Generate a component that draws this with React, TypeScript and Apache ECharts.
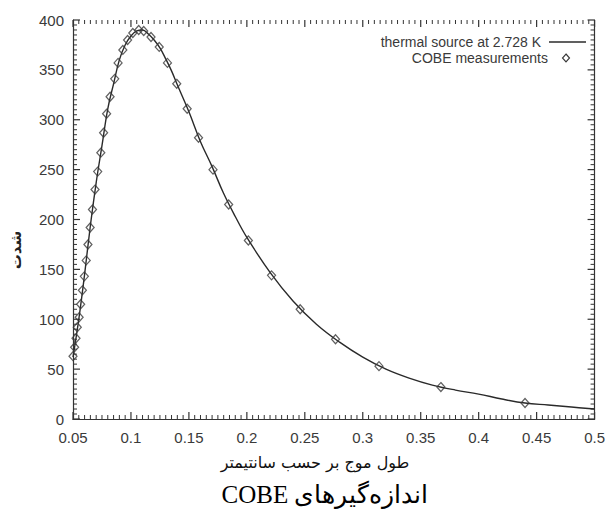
import React, { useEffect, useRef } from "react";
import * as echarts from "echarts";

// COBE measurements (wavelength in cm, intensity)
const cobeX = [0.0500, 0.0514, 0.0526, 0.0537, 0.0553, 0.0566, 0.0581, 0.0598, 0.0614, 0.0629, 0.0648, 0.0668, 0.0690, 0.0713, 0.0740, 0.0764, 0.0790, 0.0820, 0.0860, 0.0889, 0.0930, 0.0971, 0.1016, 0.1067, 0.1110, 0.1173, 0.1244, 0.1315, 0.1395, 0.1485, 0.1583, 0.1708, 0.1843, 0.2013, 0.2213, 0.2460, 0.2765, 0.3140, 0.3674, 0.4400];
const cobeY = [63, 72, 81, 92, 102, 115, 129, 143, 159, 175, 192, 210, 230, 248, 267, 287, 306, 323, 341, 357, 370, 380, 387, 390, 389, 383, 373, 357, 336, 311, 282, 250, 215, 179, 144, 110, 80, 53, 32, 16];

// thermal source curve
const curveX = [0.05, 0.055, 0.06, 0.065, 0.07, 0.075, 0.08, 0.085, 0.09, 0.095, 0.10, 0.105, 0.11, 0.115, 0.12, 0.125, 0.13, 0.135, 0.14, 0.15, 0.16, 0.17, 0.18, 0.19, 0.20, 0.22, 0.24, 0.26, 0.28, 0.30, 0.32, 0.34, 0.36, 0.38, 0.40, 0.42, 0.44, 0.46, 0.48, 0.50];
const curveY = [62, 100, 145, 194, 237, 274, 311, 336, 360, 375, 384, 389, 390, 386, 380, 372, 361, 349, 335, 308, 278, 253, 226, 203, 182, 147, 118, 95, 77, 62, 50, 41, 34, 29, 25, 20, 16, 14, 12, 10];

const xTicks = { min: 0.05, max: 0.5, interval: 0.05, minorSteps: 10 };
const yTicks = { min: 0, max: 400, interval: 50, minorSteps: 10 };

const legendLine = "thermal source at 2.728 K";
const legendPoints = "COBE measurements";
const xName = "طول موج بر حسب سانتیمتر";
const yName = "شدت";
const caption = "\u202Bاندازه‌گیرهای COBE\u202C";

const LABEL_COLOR = "#3a3a3a";
const AXIS_COLOR = "#333";
const LATIN = "'Liberation Sans', Arial, sans-serif";

export default function App() {
  const ref = useRef<HTMLDivElement>(null);

  useEffect(() => {
    document.body.style.margin = "0";
    document.body.style.overflow = "hidden";
    if (!ref.current) return;
    const chart = echarts.init(ref.current, undefined, { renderer: "svg" });

    const makeAxis = (position: string, showLabel: boolean, range: any, margin: number) => ({
      type: "value",
      position,
      min: range.min,
      max: range.max,
      interval: range.interval,
      axisLine: { show: true, lineStyle: { color: AXIS_COLOR, width: 1.2 } },
      axisTick: { show: false },
      splitLine: { show: false },
      axisLabel: {
        show: showLabel,
        color: LABEL_COLOR,
        fontSize: 15,
        fontFamily: LATIN,
        margin,
      },
    });

    // tick marks (gnuplot style: inside, mirrored on all four sides), placed through the axes' scales
    const tickItems: number[][] = [];
    const xStep = xTicks.interval / xTicks.minorSteps;
    const nX = Math.round((xTicks.max - xTicks.min) / xStep);
    for (let k = 0; k <= nX; k++) {
      const v = +(xTicks.min + k * xStep).toFixed(4);
      const major = k % xTicks.minorSteps === 0 ? 1 : 0;
      tickItems.push([v, 0, major], [v, 1, major]);
    }
    const yStep = yTicks.interval / yTicks.minorSteps;
    const nY = Math.round((yTicks.max - yTicks.min) / yStep);
    for (let k = 0; k <= nY; k++) {
      const v = +(yTicks.min + k * yStep).toFixed(4);
      const major = k % yTicks.minorSteps === 0 ? 1 : 0;
      tickItems.push([v, 2, major], [v, 3, major]);
    }

    const renderTick = (_params: any, api: any) => {
      const v = api.value(0);
      const side = api.value(1);
      const len = api.value(2) ? 7 : 4;
      let x1 = 0, y1 = 0, x2 = 0, y2 = 0;
      if (side === 0) {
        const p = api.coord([v, yTicks.min]);
        x1 = x2 = p[0]; y1 = p[1]; y2 = p[1] - len;
      } else if (side === 1) {
        const p = api.coord([v, yTicks.max]);
        x1 = x2 = p[0]; y1 = p[1]; y2 = p[1] + len;
      } else if (side === 2) {
        const p = api.coord([xTicks.min, v]);
        y1 = y2 = p[1]; x1 = p[0]; x2 = p[0] + len;
      } else {
        const p = api.coord([xTicks.max, v]);
        y1 = y2 = p[1]; x1 = p[0]; x2 = p[0] - len;
      }
      return {
        type: "line",
        shape: { x1, y1, x2, y2 },
        style: { stroke: AXIS_COLOR, lineWidth: api.value(2) ? 1.2 : 1 },
      };
    };

    const curveData = curveX.map((x, i) => [x, curveY[i]]);
    const cobeData = cobeX.map((x, i) => [x, cobeY[i]]);

    chart.setOption({
      animation: false,
      grid: { left: 73, right: 8, top: 20, bottom: 93 },
      xAxis: [makeAxis("bottom", true, xTicks, 11), makeAxis("top", false, xTicks, 8)],
      yAxis: [makeAxis("left", true, yTicks, 9), makeAxis("right", false, yTicks, 8)],
      series: [
        {
          type: "custom",
          data: tickItems,
          renderItem: renderTick,
          clip: false,
          silent: true,
          encode: { x: 0, y: -1 },
          z: 1,
        },
        {
          name: legendLine,
          type: "line",
          data: curveData,
          smooth: 0.4,
          showSymbol: false,
          lineStyle: { color: "#2a2a2a", width: 1.4 },
          z: 2,
        },
        {
          name: legendPoints,
          type: "scatter",
          data: cobeData,
          symbol: "diamond",
          symbolSize: [8, 9],
          itemStyle: { color: "rgba(255,255,255,0)", borderColor: "#383838", borderWidth: 1.25 },
          z: 3,
        },
      ],
      graphic: [
        {
          type: "text",
          x: 541,
          y: 42,
          style: {
            text: legendLine,
            align: "right",
            verticalAlign: "middle",
            fill: LABEL_COLOR,
            font: `14px ${LATIN}`,
          },
        },
        {
          type: "line",
          shape: { x1: 549, y1: 42, x2: 586, y2: 42 },
          style: { stroke: "#2b2b2b", lineWidth: 1.3 },
        },
        {
          type: "text",
          x: 548,
          y: 58,
          style: {
            text: legendPoints,
            align: "right",
            verticalAlign: "middle",
            fill: LABEL_COLOR,
            font: `14px ${LATIN}`,
          },
        },
        {
          type: "polygon",
          shape: { points: [[566, 54], [569.5, 58], [566, 62], [562.5, 58]] },
          style: { fill: "none", stroke: "#393939", lineWidth: 1.15 },
        },
        {
          type: "text",
          x: 16,
          y: 250,
          rotation: Math.PI / 2,
          style: {
            text: yName,
            align: "center",
            verticalAlign: "middle",
            fill: "#222",
            font: `bold 15px 'DejaVu Sans', sans-serif`,
          },
        },
        {
          type: "text",
          x: 315,
          y: 462,
          style: {
            text: xName,
            align: "center",
            verticalAlign: "middle",
            fill: "#111",
            font: `16px 'DejaVu Sans', sans-serif`,
          },
        },
        {
          type: "text",
          x: 325,
          y: 494,
          style: {
            text: caption,
            align: "center",
            verticalAlign: "middle",
            fill: "#000",
            font: `25px 'Liberation Serif', 'DejaVu Serif', serif`,
          },
        },
      ],
    });

    return () => chart.dispose();
  }, []);

  return <div ref={ref} style={{ width: 608, height: 512 }} />;
}
